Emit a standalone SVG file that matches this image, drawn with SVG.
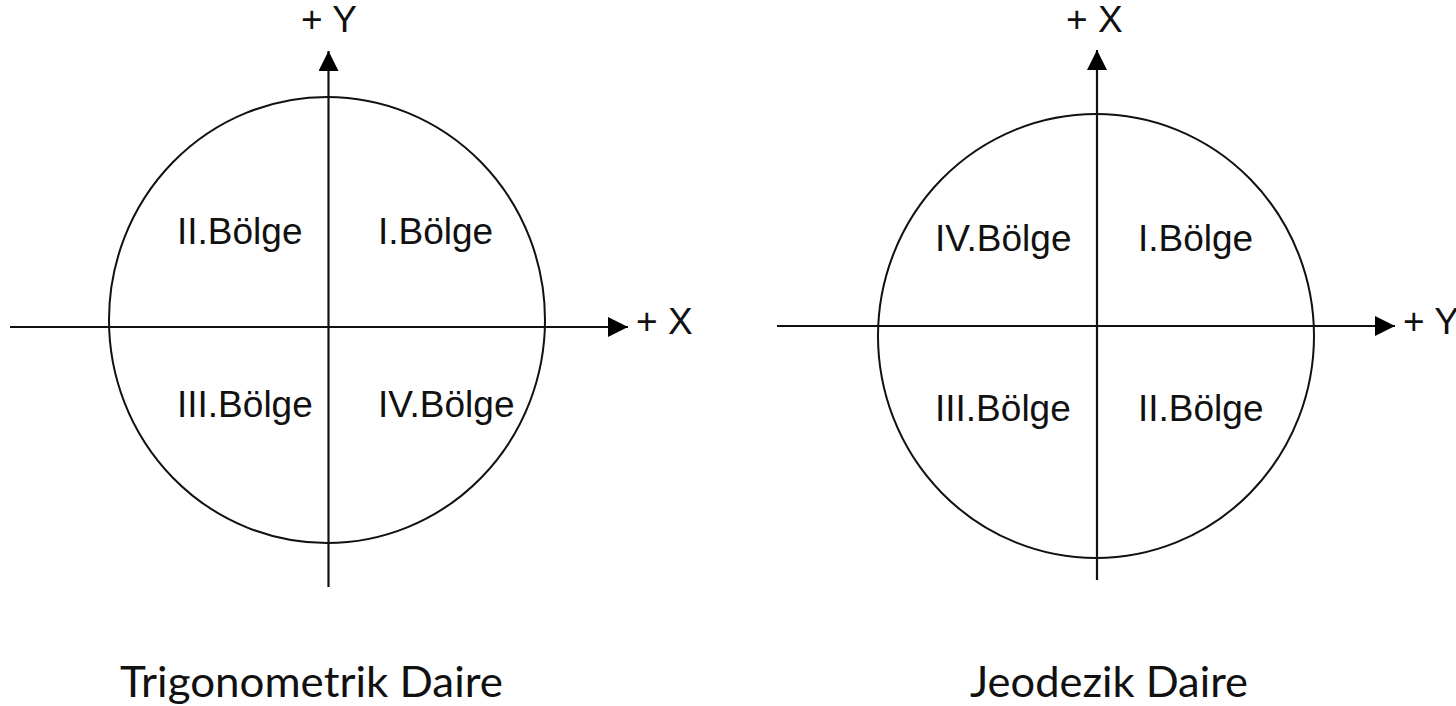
<svg xmlns="http://www.w3.org/2000/svg" width="1456" height="706" viewBox="0 0 1456 706">
  <style>
    .axis { stroke: #111; stroke-width: 2.2; fill: none; }
    .ring { stroke: #111; stroke-width: 2; fill: none; }
    .lbl { font-family: "Liberation Sans", Arial, sans-serif; font-size: 37px; fill: #111; }
    .ax { font-family: "Liberation Sans", Arial, sans-serif; font-size: 37px; fill: #111; }
    .title { font-family: Lato, "Liberation Sans", sans-serif; font-size: 42px; fill: #111; }
  </style>
  <defs>
    <marker id="arrow" viewBox="0 0 20 20" refX="20" refY="10" markerWidth="20" markerHeight="20" markerUnits="userSpaceOnUse" orient="auto">
      <path d="M0,0 L20,10 L0,20 Z" fill="#000"/>
    </marker>
  </defs>

  <rect width="1456" height="706" fill="#fff"/>

  <!-- Trigonometric circle -->
  <g id="trig-circle">
    <ellipse class="ring" cx="327" cy="320" rx="218" ry="223"/>
    <text class="lbl" x="177" y="244">II.Bölge</text>
    <text class="lbl" x="378" y="244">I.Bölge</text>
    <text class="lbl" x="177" y="417">III.Bölge</text>
    <text class="lbl" x="378" y="417">IV.Bölge</text>
    <text class="ax" x="301" y="32">+ Y</text>
    <text class="ax" x="636" y="334">+ X</text>
    <text class="title" x="120" y="697" textLength="383" lengthAdjust="spacingAndGlyphs">Trigonometrik Daire</text>
  </g>

  <!-- Geodetic circle -->
  <g id="geo-circle">
    <ellipse class="ring" cx="1096" cy="336" rx="218" ry="222"/>
    <text class="lbl" x="935" y="251">IV.Bölge</text>
    <text class="lbl" x="1138" y="251">I.Bölge</text>
    <text class="lbl" x="935" y="421">III.Bölge</text>
    <text class="lbl" x="1138" y="421">II.Bölge</text>
    <text class="ax" x="1066" y="32">+ X</text>
    <text class="ax" x="1403" y="334">+ Y</text>
    <text class="title" x="970" y="697" textLength="278" lengthAdjust="spacingAndGlyphs">Jeodezik Daire</text>
  </g>

  <!-- Axes -->
  <g id="connectors">
    <line class="axis" x1="328.5" y1="587" x2="328.5" y2="51" marker-end="url(#arrow)"/>
    <line class="axis" x1="10" y1="327" x2="628" y2="327" marker-end="url(#arrow)"/>
    <line class="axis" x1="1097" y1="580" x2="1097" y2="50" marker-end="url(#arrow)"/>
    <line class="axis" x1="777" y1="326" x2="1395" y2="326" marker-end="url(#arrow)"/>
  </g>
</svg>
